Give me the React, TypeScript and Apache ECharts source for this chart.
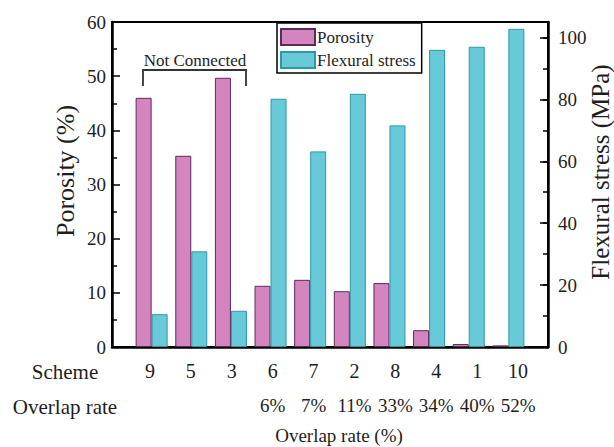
import React, { useEffect, useRef } from "react";
import * as echarts from "echarts";

// Schemes ordered along the x axis, with their overlap rates
const schemes = ["9", "5", "3", "6", "7", "2", "8", "4", "1", "10"];
const overlapRates = ["", "", "", "6%", "7%", "11%", "33%", "34%", "40%", "52%"];

// Measured values per scheme
const porosity = [46, 35.3, 49.7, 11.3, 12.4, 10.3, 11.8, 3.1, 0.55, 0.3];
const flexuralStress = [10.6, 30.9, 11.7, 80.2, 63.2, 81.8, 71.6, 96, 97, 102.8];

// Axis ticks
const porosityTicks = { min: 0, max: 60, interval: 10 };
const stressTicks = { min: 0, max: 105, interval: 20 };

const FONT = "Liberation Serif";
const INK = "#1e1e1e";

export default function App() {
  const ref = useRef<HTMLDivElement>(null);

  useEffect(() => {
    if (!ref.current) return;
    const chart = echarts.init(ref.current, undefined, { renderer: "svg" });

    const pos = (i: number) => i + 1;
    const labelStyle = { fontFamily: FONT, fontSize: 19, color: INK };

    chart.setOption({
      animation: false,
      backgroundColor: "#fff",
      textStyle: { fontFamily: FONT },
      grid: [
        {
          left: 112,
          top: 22,
          width: 436,
          height: 325,
          show: true,
          borderColor: "#000",
          borderWidth: 2,
          backgroundColor: "transparent",
        },
        { left: 109, top: 346, width: 450, height: 1 },
      ],
      legend: {
        orient: "vertical",
        left: 277,
        top: 23,
        itemWidth: 34,
        itemHeight: 16,
        itemGap: 5,
        padding: [5, 6, 4, 3],
        borderColor: "#000",
        borderWidth: 1.5,
        icon: "rect",
        textStyle: { fontFamily: FONT, fontSize: 17, color: INK, padding: [0, 0, 0, -3] },
        data: ["Porosity", "Flexural stress"],
      },
      xAxis: [
        {
          type: "value",
          gridIndex: 0,
          position: "bottom",
          min: 0,
          max: 11,
          axisLine: { show: true, lineStyle: { color: "#000", width: 2.5 } },
          axisTick: { show: false },
          axisLabel: { show: false },
          splitLine: { show: false },
        },
        {
          type: "value",
          gridIndex: 1,
          position: "bottom",
          min: 0,
          max: 11,
          interval: 1,
          axisLine: { show: false },
          axisTick: { show: false },
          splitLine: { show: false },
          axisLabel: {
            ...labelStyle,
            fontSize: 20,
            margin: 14,
            formatter: (v: number) => schemes[v - 1] ?? "",
          },
        },
        {
          type: "value",
          gridIndex: 1,
          position: "bottom",
          offset: 0,
          min: 0,
          max: 11,
          interval: 1,
          axisLine: { show: false },
          axisTick: { show: false },
          splitLine: { show: false },
          axisLabel: {
            ...labelStyle,
            fontSize: 19,
            margin: 49,
            formatter: (v: number) => overlapRates[v - 1] ?? "",
          },
        },
      ],
      yAxis: [
        {
          type: "value",
          gridIndex: 0,
          position: "left",
          ...porosityTicks,
          axisLine: { show: true, lineStyle: { color: "#000", width: 2.5 } },
          axisTick: { show: true, inside: true, length: 8, lineStyle: { color: "#000", width: 1.5 } },
          minorTick: { show: true, splitNumber: 2, length: 5, lineStyle: { color: "#000", width: 1.5 } },
          splitLine: { show: false },
          axisLabel: { ...labelStyle, margin: 6 },
        },
        {
          type: "value",
          gridIndex: 0,
          position: "right",
          ...stressTicks,
          axisLine: { show: true, lineStyle: { color: "#000", width: 2.5 } },
          axisTick: { show: true, inside: true, length: 8, lineStyle: { color: "#000", width: 1.5 } },
          splitLine: { show: false },
          axisLabel: {
            ...labelStyle,
            margin: 10,
            formatter: (v: number) => (v % stressTicks.interval === 0 ? String(v) : ""),
          },
        },
        {
          type: "value",
          gridIndex: 0,
          position: "right",
          offset: 0,
          min: stressTicks.min,
          max: stressTicks.max,
          interval: stressTicks.interval / 2,
          axisLine: { show: false },
          axisTick: { show: true, inside: true, length: 5, lineStyle: { color: "#000", width: 1.5 } },
          splitLine: { show: false },
          axisLabel: { show: false },
        },
        {
          type: "value",
          gridIndex: 1,
          show: false,
        },
      ],
      series: [
        {
          name: "Porosity",
          type: "bar",
          xAxisIndex: 0,
          yAxisIndex: 0,
          barWidth: 16,
          barGap: "0%",
          itemStyle: { color: "#d485bf", borderColor: "#5e2a57", borderWidth: 1 },
          data: porosity.map((v, i) => [pos(i), v]),
        },
        {
          name: "Flexural stress",
          type: "bar",
          xAxisIndex: 0,
          yAxisIndex: 1,
          barWidth: 16,
          barGap: "0%",
          itemStyle: { color: "#68c9d8", borderColor: "#2a9aa3", borderWidth: 1 },
          data: flexuralStress.map((v, i) => [pos(i), v]),
        },
      ],
      graphic: [
        {
          type: "text",
          x: 65,
          y: 171,
          rotation: Math.PI / 2,
          style: {
            text: "Porosity (%)",
            fontFamily: FONT,
            fontSize: 26,
            fill: INK,
            align: "center",
            verticalAlign: "middle",
          },
        },
        {
          type: "text",
          x: 600,
          y: 172,
          rotation: Math.PI / 2,
          style: {
            text: "Flexural stress (MPa)",
            fontFamily: FONT,
            fontSize: 25,
            fill: INK,
            align: "center",
            verticalAlign: "middle",
          },
        },
        {
          type: "text",
          x: 65,
          y: 372,
          style: {
            text: "Scheme",
            fontFamily: FONT,
            fontSize: 21,
            fill: INK,
            align: "center",
            verticalAlign: "middle",
          },
        },
        {
          type: "text",
          x: 65,
          y: 407,
          style: {
            text: "Overlap rate",
            fontFamily: FONT,
            fontSize: 21,
            fill: INK,
            align: "center",
            verticalAlign: "middle",
          },
        },
        {
          type: "text",
          x: 339,
          y: 435,
          style: {
            text: "Overlap rate (%)",
            fontFamily: FONT,
            fontSize: 19,
            fill: INK,
            align: "center",
            verticalAlign: "middle",
          },
        },
        {
          type: "text",
          x: 195,
          y: 60,
          style: {
            text: "Not Connected",
            fontFamily: FONT,
            fontSize: 17,
            fill: INK,
            align: "center",
            verticalAlign: "middle",
          },
        },
        {
          type: "polyline",
          shape: {
            points: [
              [143, 86],
              [143, 70],
              [246, 70],
              [246, 86],
            ],
          },
          style: { stroke: "#333", lineWidth: 1.8, fill: "none" },
        },
      ],
    });

    return () => chart.dispose();
  }, []);

  return (
    <div
      ref={ref}
      style={{ position: "fixed", left: 0, top: 0, width: 614, height: 447 }}
    />
  );
}
